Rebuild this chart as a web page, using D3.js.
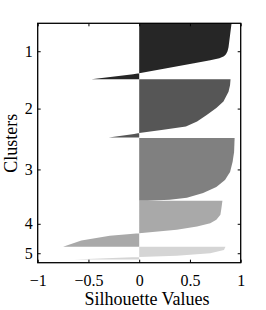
<!DOCTYPE html>
<html>
<head>
<meta charset="utf-8">
<script src="https://cdn.jsdelivr.net/npm/d3@7"></script>
<style>
body{margin:0;background:#fff;}
</style>
</head>
<body>
<svg id="svg" width="266" height="310"></svg>
<script>
// clusters: sample counts, fill shades, silhouette profile as [row in cluster, value]
var clusters=["1","2","3","4","5"];
var sizes=[56,59,63,46,13];
var trailing=3;
var shades=["#262626","#565656","#808080","#a9a9a9","#d5d5d5"];
var c1=[[0,0.91],[12,0.895],[24,0.88],[28,0.87],[31,0.855],[33,0.835],[35,0.79],[37,0.70],[40,0.54],[45,0.27],[50,0.0],[51,-0.06],[56,-0.47]];
var c2=[[0,0.90],[6,0.895],[12.5,0.88],[22.5,0.83],[29,0.76],[36,0.665],[42.5,0.57],[47.5,0.46],[51,0.22],[54,0.0],[55,-0.05],[58.5,-0.30]];
var c3=[[0,0.94],[14,0.935],[24,0.92],[34,0.895],[42,0.845],[49,0.76],[55,0.63],[60,0.47],[62,0.3],[63,0.08]];
var c4=[[0,0.82],[7.5,0.81],[14,0.80],[19,0.76],[22.5,0.70],[25.7,0.57],[29,0.37],[32.5,0.0],[35,-0.29],[39.7,-0.57],[46,-0.75]];
var c5=[[0,0.85],[3.3,0.835],[6.6,0.70],[9,0.37],[10.3,0.0],[11,-0.2],[12.7,-0.64]];
var profiles=[c1,c2,c3,c4,c5];
var xTicks=[-1,-0.5,0,0.5,1];

var font="Liberation Serif";
var margin={left:37.7,top:23.3};
var width=203, height=239.4;
var svg=d3.select("#svg").append("g")
        .attr("transform","translate("+margin.left+","+margin.top+")");

var starts=[],acc=0;
sizes.forEach(s=>{starts.push(acc);acc+=s});
var total=acc+trailing;

var x=d3.scaleLinear().domain([-1,1]).range([0,width]);
var y=d3.scaleLinear().domain([0,total]).range([0,height]);

profiles.forEach((p,i)=>{
    var area=d3.area()
        .y(d=>y(starts[i]+d[0]))
        .x0(x(0))
        .x1(d=>x(d[1]));
    svg.append("path")
        .attr("d",area(p))
        .attr("fill",shades[i]);
});

var centers=sizes.map((s,i)=>starts[i]+s/2);

//axes: ticks point inward, labels only on bottom and left
svg.append("g")
        .attr("transform","translate(0,"+height+")")
    .call(d3.axisBottom(x).tickValues(xTicks).tickSize(-3).tickPadding(12).tickFormat(d3.format("")))
        .attr("font-family",font).attr("font-size",16);
svg.append("g")
    .call(d3.axisTop(x).tickValues(xTicks).tickSize(-3).tickFormat(""));

svg.append("g")
    .call(d3.axisLeft(y).tickValues(centers).tickSize(-3).tickPadding(5).tickFormat((d,i)=>clusters[i]))
        .attr("font-family",font).attr("font-size",16);
svg.append("g")
        .attr("transform","translate("+width+",0)")
    .call(d3.axisRight(y).tickValues(centers).tickSize(-3).tickFormat(""));

svg.selectAll(".domain").remove();
svg.selectAll(".tick line").attr("stroke","#000");
svg.append("rect")
        .attr("width",width)
        .attr("height",height)
        .attr("fill","none")
        .attr("stroke","#000")
        .attr("stroke-width",1.3);

svg.append("text")
        .attr("x",147-margin.left)
        .attr("y",304.7-margin.top)
        .attr("text-anchor","middle")
        .attr("font-family",font)
        .attr("font-size",18)
        .text("Silhouette Values");
svg.append("text")
        .attr("transform","translate("+(16.5-margin.left)+","+(143.3-margin.top)+") rotate(-90)")
        .attr("text-anchor","middle")
        .attr("font-family",font)
        .attr("font-size",18)
        .text("Clusters");
</script>
</body>
</html>
